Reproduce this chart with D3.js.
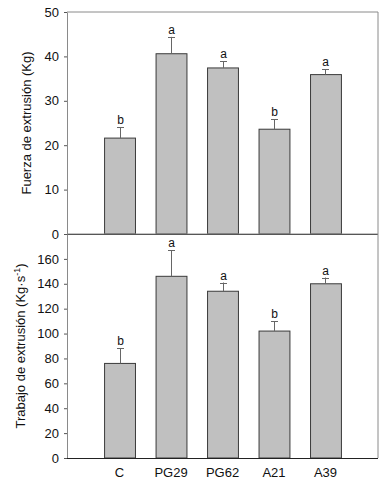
<!DOCTYPE html>
<html>
<head>
    <style>
        body { margin: 0; background: #fff; }
        text { font-family: Arial, "Liberation Sans", sans-serif; }
    </style>
    <script src="https://d3js.org/d3.v7.min.js"></script>
</head>
<body>
    <svg id="chart"></svg>
    <script>
        // categories and values
        var categories = ["C", "PG29", "PG62", "A21", "A39"];
        var fuerza = [21.6, 40.6, 37.4, 23.6, 35.9];
        var fuerzaErr = [2.4, 3.8, 1.5, 2.3, 1.2];
        var fuerzaLetters = ["b", "a", "a", "b", "a"];
        var trabajo = [76, 146, 134, 102, 140];
        var trabajoErr = [12, 21, 7, 8, 5];
        var trabajoLetters = ["b", "a", "a", "b", "a"];
        var fuerzaTicks = [0, 10, 20, 30, 40, 50];
        var trabajoTicks = [0, 20, 40, 60, 80, 100, 120, 140, 160];

        const width = 383;
        const height = 484;
        const left = 67, right = 378;

        const svg = d3.select('#chart')
            .attr('width', width)
            .attr('height', height);

        const x = d3.scaleBand()
            .domain(categories)
            .range([left, right])
            .paddingInner(0.4)
            .paddingOuter(0.72);

        function panel(values, errs, letters, ticks, ymax, top, bottom, title, titleX, drawXLabels) {
            const y = d3.scaleLinear().domain([0, ymax]).range([bottom, top]);
            const g = svg.append('g');

            // frame (top and right)
            g.append('path')
                .attr('d', `M${left},${top}H${right}V${bottom}`)
                .attr('fill', 'none')
                .attr('stroke', '#8a8a8a')
                .attr('stroke-width', 1);

            // y axis
            const yAxis = g.append('g')
                .attr('transform', `translate(${left},0)`)
                .call(d3.axisLeft(y).tickValues(ticks).tickSize(3).tickPadding(5).tickSizeOuter(0));
            yAxis.select('.domain').attr('stroke', '#8a8a8a');
            yAxis.selectAll('.tick line').attr('stroke', '#555');
            yAxis.selectAll('text').attr('font-size', 13).attr('fill', '#111');

            // bars
            g.selectAll('rect.bar')
                .data(values)
                .enter().append('rect')
                .attr('class', 'bar')
                .attr('x', (d, i) => x(categories[i]) + 0.5)
                .attr('y', d => y(d))
                .attr('width', x.bandwidth())
                .attr('height', d => bottom - y(d))
                .attr('fill', '#c0c0c0')
                .attr('stroke', '#3a3a3a')
                .attr('stroke-width', 1);

            // error bars
            const cx = i => Math.round(x(categories[i]) + x.bandwidth() / 2) + 0.5;
            g.selectAll('line.err')
                .data(values)
                .enter().append('line')
                .attr('x1', (d, i) => cx(i))
                .attr('x2', (d, i) => cx(i))
                .attr('y1', d => y(d))
                .attr('y2', (d, i) => y(d + errs[i]))
                .attr('stroke', '#666');
            g.selectAll('line.cap')
                .data(values)
                .enter().append('line')
                .attr('x1', (d, i) => cx(i) - 3.5)
                .attr('x2', (d, i) => cx(i) + 3.5)
                .attr('y1', (d, i) => Math.round(y(d + errs[i])) + 0.5)
                .attr('y2', (d, i) => Math.round(y(d + errs[i])) + 0.5)
                .attr('stroke', '#666');

            // significance letters
            g.selectAll('text.letter')
                .data(values)
                .enter().append('text')
                .attr('x', (d, i) => cx(i))
                .attr('y', (d, i) => y(d + errs[i]) - 3)
                .attr('text-anchor', 'middle')
                .attr('font-size', 12)
                .attr('fill', '#111')
                .text((d, i) => letters[i]);

            // x axis line
            g.append('line')
                .attr('x1', left).attr('x2', right)
                .attr('y1', bottom + 0.5).attr('y2', bottom + 0.5)
                .attr('stroke', '#222');

            if (drawXLabels) {
                g.selectAll('text.xl')
                    .data(categories)
                    .enter().append('text')
                    .attr('x', d => x(d) + x.bandwidth() / 2)
                    .attr('y', bottom + 19)
                    .attr('text-anchor', 'middle')
                    .attr('font-size', 13)
                    .attr('fill', '#111')
                    .text(d => d);
            }

            const t = g.append('text')
                .attr('transform', `translate(${titleX},${(top + bottom) / 2}) rotate(-90)`)
                .attr('text-anchor', 'middle')
                .attr('font-size', 13)
                .attr('fill', '#111');
            return t;
        }

        panel(fuerza, fuerzaErr, fuerzaLetters, fuerzaTicks, 50, 12, 234, '', 31, false)
            .text('Fuerza de extrusión (Kg)');

        const t2 = panel(trabajo, trabajoErr, trabajoLetters, trabajoTicks, 180, 234, 458, '', 25, true);
        t2.append('tspan').text('Trabajo de extrusión (Kg·s');
        t2.append('tspan').attr('dy', -5).attr('font-size', 9).text('-1');
        t2.append('tspan').attr('dy', 5).text(')');
    </script>
</body>
</html>
